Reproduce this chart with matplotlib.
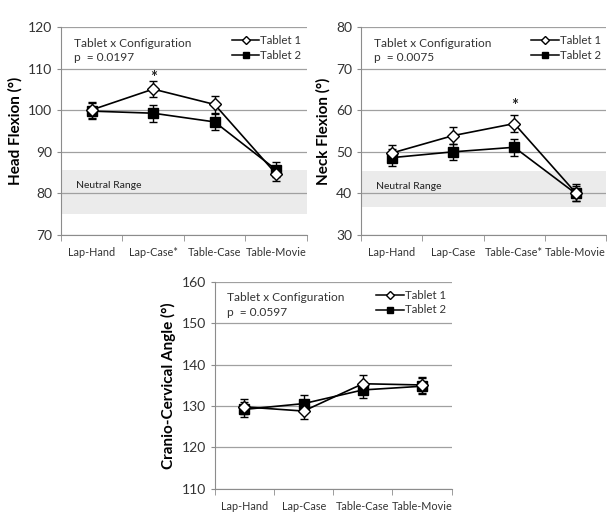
import matplotlib
matplotlib.use("Agg")
import matplotlib.pyplot as plt
from matplotlib.lines import Line2D

plt.rcParams["font.family"] = ["Lato", "DejaVu Sans"]

# categories per panel
CATS_HEAD = ["Lap-Hand", "Lap-Case*", "Table-Case", "Table-Movie"]
CATS_NECK = ["Lap-Hand", "Lap-Case", "Table-Case*", "Table-Movie"]
CATS_CC = ["Lap-Hand", "Lap-Case", "Table-Case", "Table-Movie"]

# head flexion (deg)
HEAD_T1 = [100.1, 105.1, 101.4, 84.7]
HEAD_T2 = [99.8, 99.3, 97.2, 85.7]
HEAD_ERR1 = [2.0, 2.0, 2.0, 1.8]
HEAD_ERR2 = [2.0, 2.0, 1.9, 1.8]
HEAD_NEUTRAL = (75.0, 85.7)

# neck flexion (deg)
NECK_T1 = [49.7, 53.9, 56.8, 40.2]
NECK_T2 = [48.6, 50.0, 51.1, 40.0]
NECK_ERR1 = [2.0, 2.0, 2.0, 2.0]
NECK_ERR2 = [2.0, 2.0, 2.0, 1.8]
NECK_NEUTRAL = (36.7, 45.3)

# cranio-cervical angle (deg)
CC_T1 = [129.8, 128.8, 135.4, 135.1]
CC_T2 = [129.2, 130.6, 133.9, 134.8]
CC_ERR1 = [1.8, 1.8, 2.0, 1.9]
CC_ERR2 = [1.8, 2.0, 2.0, 2.0]

AX_GREY = "#8c8c8c"
GRID_GREY = "#a0a0a0"
TEXT_COL = "#333333"


def draw_panel(ax, cats, t1, t2, e1, e2, ylim, ylabel, pval,
               neutral=None, star=None):
    x = range(len(cats))
    ax.set_xlim(-0.5, len(cats) - 0.5)
    ax.set_ylim(*ylim)
    ax.set_yticks(range(ylim[0], ylim[1] + 1, 10))
    ax.yaxis.grid(True, color=GRID_GREY, lw=0.9)
    ax.set_axisbelow(True)
    if neutral is not None:
        ax.axhspan(*neutral, color="#ebebeb", zorder=0.5, lw=0)
        ax.text(0.06, neutral[1] - 3.7, "Neutral Range",
                transform=ax.get_yaxis_transform(),
                fontsize=7.5, color="#222222", va="center")
    ax.errorbar(x, t2, yerr=e2, color="black", lw=1.2, marker="s", ms=6.5,
                mfc="black", mec="black", capsize=3, elinewidth=1.0, zorder=3)
    ax.errorbar(x, t1, yerr=e1, color="black", lw=1.2, marker="D", ms=6,
                mfc="white", mec="black", capsize=3, elinewidth=1.0, zorder=4)
    if star is not None:
        ax.text(star[0], star[1], "*", ha="center", va="center", fontsize=12,
                fontweight="bold", color="#222222")

    ax.set_xticks(list(x))
    ax.set_xticklabels(cats, fontsize=7.8, color=TEXT_COL)
    ax.tick_params(axis="x", length=0, pad=9)
    ax.set_xticks([i - 0.5 for i in range(len(cats) + 1)], minor=True)
    ax.tick_params(axis="x", which="minor", length=4, color=AX_GREY)
    ax.tick_params(axis="y", labelsize=10, colors=TEXT_COL, length=3, color=AX_GREY)
    for s in ("top", "right"):
        ax.spines[s].set_visible(False)
    for s in ("left", "bottom"):
        ax.spines[s].set_color(AX_GREY)
    ax.set_ylabel(ylabel, fontsize=11, fontweight="bold", labelpad=4)

    ax.text(0.053, 0.95, "Tablet x Configuration\np  = " + pval,
            transform=ax.transAxes, fontsize=8.6, color=TEXT_COL,
            va="top", linespacing=1.4)
    handles = [
        Line2D([], [], color="black", lw=1.1, marker="D", ms=4.5,
               mfc="white", mec="black"),
        Line2D([], [], color="black", lw=1.1, marker="s", ms=5,
               mfc="black", mec="black"),
    ]
    leg = ax.legend(handles, ["Tablet 1", "Tablet 2"], loc="upper right",
                    bbox_to_anchor=(1.02, 1.01), frameon=False, fontsize=8.2,
                    handlelength=2.4, borderpad=0.4, labelspacing=0.3,
                    handletextpad=0.1)
    for t in leg.get_texts():
        t.set_color(TEXT_COL)


fig = plt.figure(figsize=(6.07, 5.13), dpi=100)
ax1 = fig.add_axes([0.1005, 0.542, 0.405, 0.405])
ax2 = fig.add_axes([0.5947, 0.542, 0.404, 0.405])
ax3 = fig.add_axes([0.354, 0.047, 0.390, 0.4035])

draw_panel(ax1, CATS_HEAD, HEAD_T1, HEAD_T2, HEAD_ERR1, HEAD_ERR2,
           (70, 120), "Head Flexion (°)", "0.0197",
           neutral=HEAD_NEUTRAL, star=(1, 107.8))
draw_panel(ax2, CATS_NECK, NECK_T1, NECK_T2, NECK_ERR1, NECK_ERR2,
           (30, 80), "Neck Flexion (°)", "0.0075",
           neutral=NECK_NEUTRAL, star=(2, 61.0))
draw_panel(ax3, CATS_CC, CC_T1, CC_T2, CC_ERR1, CC_ERR2,
           (110, 160), "Cranio-Cervical Angle (°)", "0.0597")

fig.savefig("out.png", dpi=100)
